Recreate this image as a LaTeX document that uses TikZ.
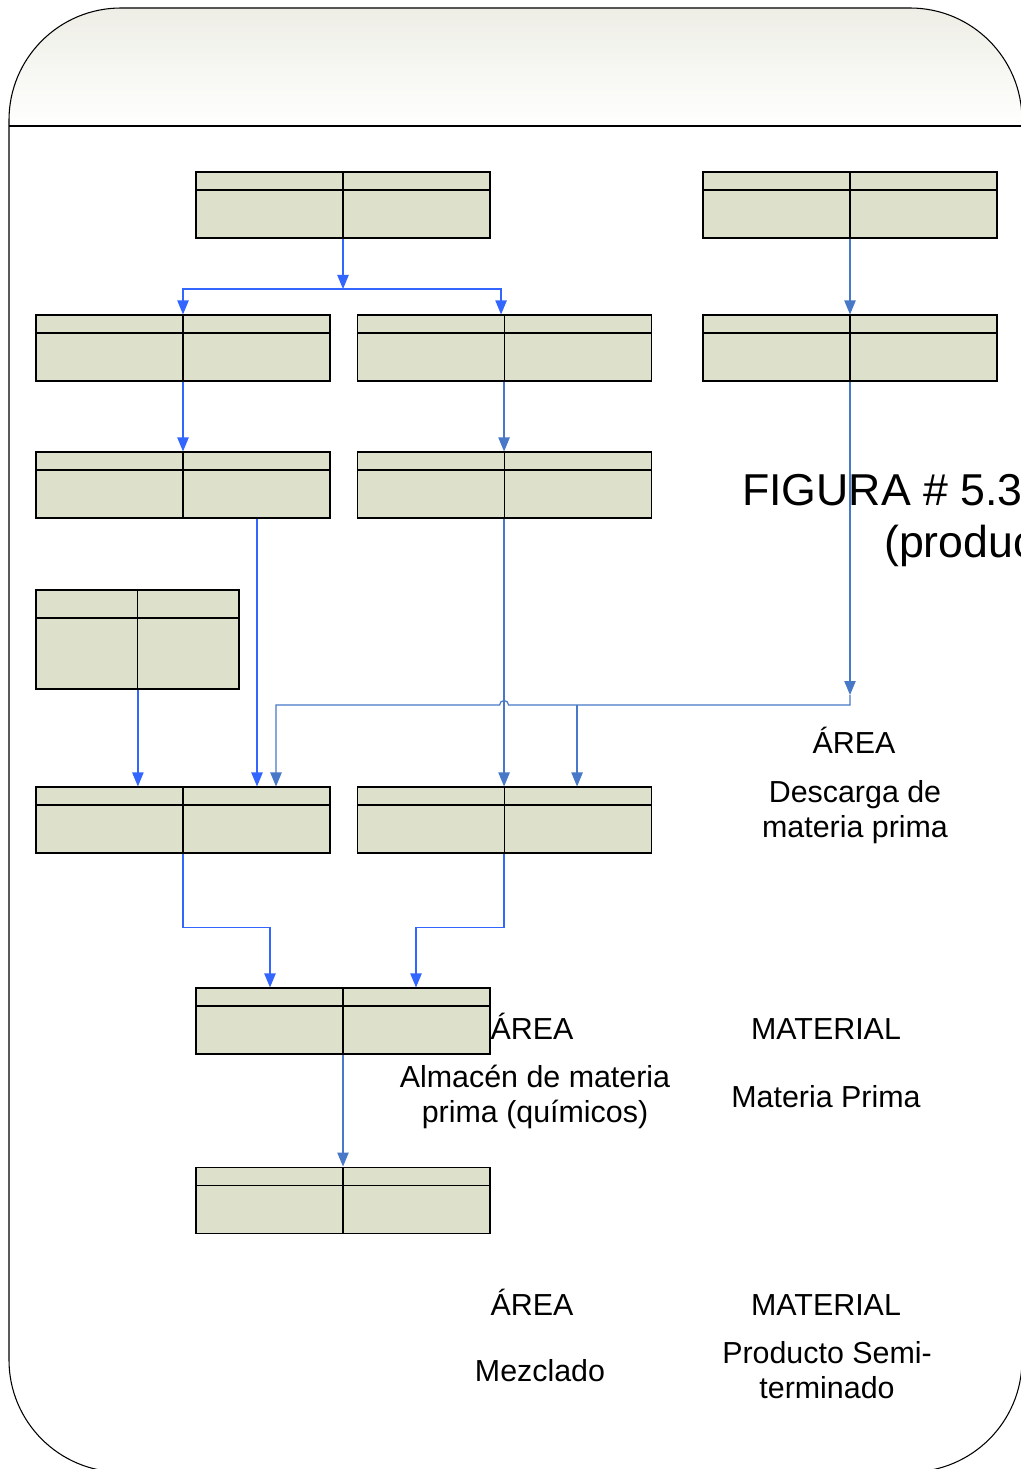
\documentclass[tikz,border=0pt]{standalone}
\usepackage{fontspec}
\setmainfont{Liberation Sans}
\usetikzlibrary{arrows.meta, positioning, calc}
\definecolor{boxfill}{RGB}{221,224,203}
\definecolor{flowbl}{RGB}{51,102,255}
\definecolor{flowst}{RGB}{72,120,200}
\definecolor{bandtop}{RGB}{238,238,230}

\begin{document}
\begin{tikzpicture}[
    x=0.75pt, y=-0.75pt,
    >={Triangle[length=10.5pt, width=8.5pt]},
    tbl/.style={draw=black, line width=0.8pt, fill=boxfill, inner sep=0pt,
                minimum width=220.5pt, minimum height=49.5pt,
                path picture={
                  \draw[line width=0.8pt] (path picture bounding box.north)
                       -- (path picture bounding box.south);
                  \draw[line width=0.8pt] ([yshift=-#1]path picture bounding box.north west)
                       -- ([yshift=-#1]path picture bounding box.north east);}},
    tbl/.default=13.5pt,
    arrB/.style={->, flowbl, line width=0.9pt},
    arrS/.style={->, flowst, line width=0.9pt},
    lbl/.style={font=\fontsize{22.8}{26}\selectfont, align=center, inner sep=0pt},
    ttl/.style={font=\fontsize{33.5}{40}\selectfont, inner sep=0pt},
]

\useasboundingbox (0,0) rectangle (1020,1469);
\fill[white] (0,0) rectangle (1020,1469);

\begin{scope}
  \clip[rounded corners=84pt] (9,8) rectangle (1022,1472);
  \shade[top color=bandtop, bottom color=white!98!bandtop] (9,8) rectangle (1022,126);
\end{scope}
\draw[line width=0.8pt, rounded corners=84pt] (9,8) rectangle (1022,1472);
\draw[line width=0.8pt] (9,126) -- (1022,126);

\node[tbl] (r1l) at (343,205) {};
\node[tbl] (r1r) at (850,205) {};

\node[tbl] (r2l) at (183,348) {};
\node[tbl, right=19.5pt of r2l] (r2m) {};
\node[tbl] (r2r) at (850,348) {};

\node[tbl] (r3l) at (183,485) {};
\node[tbl, right=19.5pt of r3l] (r3m) {};

\node[tbl=21pt, minimum width=152.25pt, minimum height=74.25pt] (r4) at (137.5,639.5) {};

\node[tbl] (r5l) at (183,820) {};
\node[tbl, right=19.5pt of r5l] (r5m) {};

\node[tbl] (r6) at (343,1021) {};
\node[tbl, below=84pt of r6] (r7) {};

\node[ttl, anchor=base west] (fig1) at (742,505) {FIGURA \# 5.3};
\node[ttl, anchor=base west] (fig2) at (884,557) {(produc};

\node[lbl, anchor=base] (areaA) at (854,753) {ÁREA};
\node[lbl, anchor=base] (descarga) at (855,837) {Descarga de\\materia prima};
\node[lbl, anchor=base] (areaB) at (532,1039) {ÁREA};
\node[lbl, anchor=base] (matB) at (826,1039) {MATERIAL};
\node[lbl, anchor=base] (almacen) at (535,1122) {Almacén de materia\\prima (químicos)};
\node[lbl, anchor=base] (mprima) at (826,1107) {Materia Prima};
\node[lbl, anchor=base] (areaC) at (532,1315) {ÁREA};
\node[lbl, anchor=base] (matC) at (826,1315) {MATERIAL};
\node[lbl, anchor=base] (mezclado) at (540,1381) {Mezclado};
\node[lbl, anchor=base] (semi) at (827,1398) {Producto Semi-\\terminado};

\coordinate (splitTop) at (343,289);
\coordinate (hub) at (850,705);

\draw[arrB] (r1l.south) -- (splitTop);
\draw[arrB] (splitTop) -| (r2l.north);
\draw[arrB] (splitTop) -| ([xshift=-2.25pt]r2m.north);
\draw[arrS] (r1r.south) -- (r2r.north);

\draw[arrB] (r2l.south) -- (r3l.north);
\draw[arrS] (r2m.south) -- (r3m.north);

\draw[arrS] (r3m.south) -- (r5m.north);
\draw[arrB] ([xshift=55.5pt]r3l.south) -- ([xshift=55.5pt]r5l.north);
\draw[arrB] ([xshift=0.3pt]r4.south) -- ([xshift=0.3pt]r4.south |- r5l.north);

\draw[arrS] (r2r.south) -- ([yshift=7.5pt]hub);
\draw[arrS] ([yshift=7.5pt]hub) -- (hub)
    -- ($(r3m.south |- hub)+(4.5,0)$) arc[start angle=0, end angle=-180, radius=4.5]
    -| ([xshift=69.75pt]r5l.north);
\draw[arrS] ([xshift=54.75pt]r5m.north |- hub) -- ([xshift=54.75pt]r5m.north);

\draw[arrB] (r5l.south) -- ++(0,74) -| ([xshift=-54.75pt]r6.north);
\draw[arrB] (r5m.south) -- ++(0,74) -| ([xshift=54.75pt]r6.north);
\draw[arrS] (r6.south) -- (r7.north);

\end{tikzpicture}
\end{document}
